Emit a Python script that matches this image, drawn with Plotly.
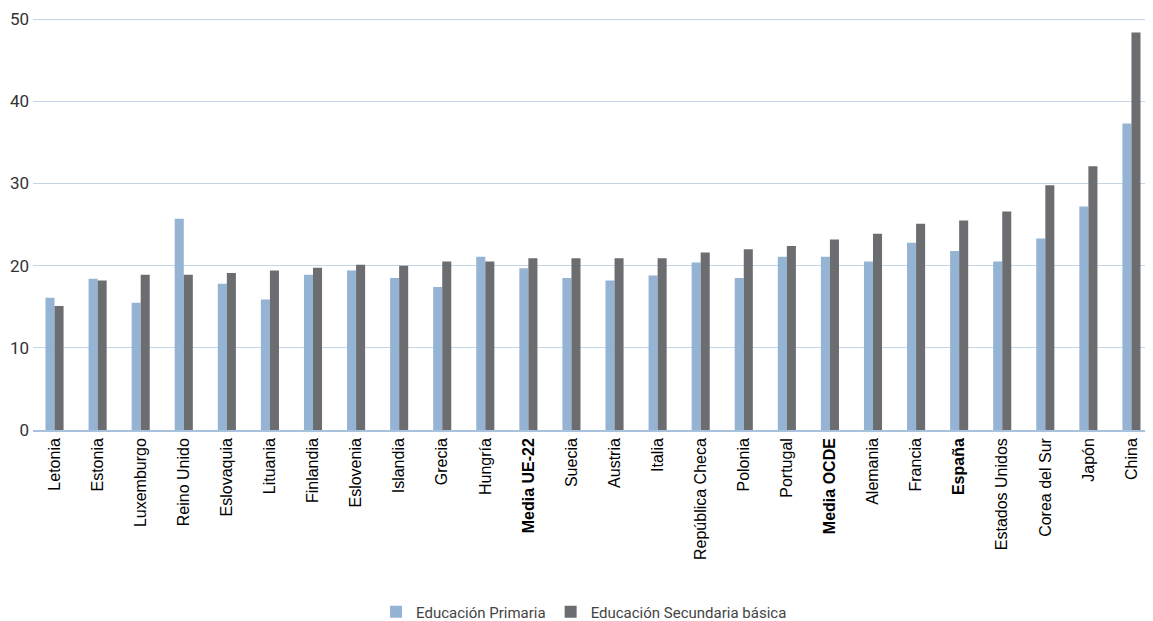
import plotly.graph_objects as go

categories = ["Letonia", "Estonia", "Luxemburgo", "Reino Unido", "Eslovaquia", "Lituania",
              "Finlandia", "Eslovenia", "Islandia", "Grecia", "Hungría", "Media UE-22",
              "Suecia", "Austria", "Italia", "República Checa", "Polonia", "Portugal",
              "Media OCDE", "Alemania", "Francia", "España", "Estados Unidos",
              "Corea del Sur", "Japón", "China"]
bold_categories = ["Media UE-22", "Media OCDE", "España"]

primaria = [16.1, 18.4, 15.5, 25.7, 17.8, 15.9, 18.9, 19.4, 18.5, 17.4, 21.1, 19.7,
            18.5, 18.2, 18.8, 20.4, 18.5, 21.1, 21.1, 20.5, 22.8, 21.8, 20.5,
            23.3, 27.2, 37.3]
secundaria = [15.1, 18.2, 18.9, 18.9, 19.1, 19.4, 19.75, 20.1, 20.0, 20.5, 20.5, 20.9,
              20.9, 20.9, 20.9, 21.6, 22.0, 22.4, 23.2, 23.9, 25.1, 25.5, 26.6,
              29.8, 32.1, 48.4]

series_names = ["Educación Primaria", "Educación Secundaria básica"]
y_ticks = [0, 10, 20, 30, 40, 50]

tick_text = [f"<b>{c}</b>" if c in bold_categories else c for c in categories]

narrow = "Liberation Sans Narrow, Arial Narrow, Roboto, sans-serif"

fig = go.Figure()
fig.add_trace(go.Bar(x=categories, y=primaria, name=series_names[0],
                     marker=dict(color="#95B3D3", line=dict(width=0))))
fig.add_trace(go.Bar(x=categories, y=secundaria, name=series_names[1],
                     marker=dict(color="#6C6D71", line=dict(width=0))))

fig.update_layout(
    width=1145, height=613,
    margin=dict(l=25, r=0, t=10, b=191, autoexpand=False),
    paper_bgcolor="white", plot_bgcolor="white",
    barmode="group", bargap=0.58, bargroupgap=0,
    showlegend=True,
    legend=dict(orientation="h", x=0.492, xanchor="center", y=-0.442, yanchor="middle",
                font=dict(family=narrow, size=15, color="#444444"),
                itemwidth=30, traceorder="normal"),
    xaxis=dict(
        tickmode="array", tickvals=categories, ticktext=tick_text,
        tickangle=-90, tickfont=dict(family="Liberation Sans, Arial, sans-serif", size=16, color="#000000"),
        showgrid=False, showline=True, linecolor="#A8C1DD", linewidth=1.5,
        ticks="", ticklen=0, automargin=False,
    ),
    yaxis=dict(
        range=[0, 50.15], tickvals=y_ticks,
        tickfont=dict(family=narrow, size=17, color="#333333"),
        showgrid=True, gridcolor="#C4D5E8", gridwidth=1,
        zeroline=False, showline=False, ticks="", ticklabelstandoff=3,
        automargin=False,
    ),
)

fig.write_html("out.html")
